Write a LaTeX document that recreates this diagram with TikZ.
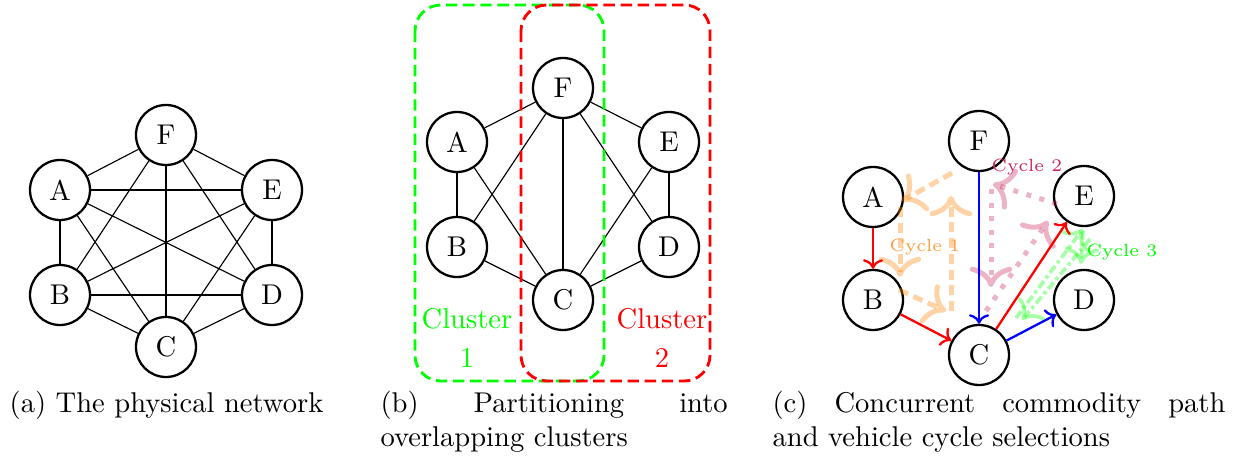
\documentclass[tikz,border=0pt]{standalone}
\usetikzlibrary{arrows.meta}
\begin{document}
\begin{tikzpicture}[x=0.35pt,y=-0.35pt,
  vtx/.style={circle,draw,thick,minimum size=21pt,inner sep=0pt,font=\normalsize},
  lnk/.style={draw,black},
  clusterbox/.style={line width=1pt,dash pattern=on 4pt off 2pt,rounded corners=9pt},
  path1/.style={thick,->},
  cyc1/.style={draw=orange,draw opacity=0.35,line width=1.75pt,dash pattern=on 3.5pt off 2pt,-{To[scale=1.3]}},
  cyc2/.style={draw=purple,draw opacity=0.3,line width=1.75pt,dash pattern=on 1.75pt off 3pt,-{To[scale=1.3]}},
  cyc3/.style={draw=green,draw opacity=0.35,line width=1.3pt,dash pattern=on 3pt off 1.2pt on 1.2pt off 1.2pt,-{To[scale=1.3]}},
  cyclabel/.style={font=\fontsize{6.2}{7}\selectfont,inner sep=1pt},
  capt/.style={inner sep=0pt,font=\normalsize}
]
\useasboundingbox (0,0) rectangle (1243,459);

% ---------------- (a) ----------------
\node[vtx] (aF) at (166,135) {F};
\node[vtx] (aA) at (60,190) {A};
\node[vtx] (aE) at (272,190) {E};
\node[vtx] (aB) at (60,295) {B};
\node[vtx] (aD) at (272,295) {D};
\node[vtx] (aC) at (166,347) {C};
\foreach \u/\v in {aA/aF,aF/aE,aA/aE,aA/aB,aA/aD,aA/aC,aF/aB,aF/aC,aF/aD,aE/aB,aE/aC,aE/aD,aB/aD,aB/aC,aC/aD}
  \draw[lnk] (\u) -- (\v);
\node[capt,anchor=base] (capa) at (166.5,413) {(a) The physical network};

% ---------------- (b) ----------------
\node[vtx] (bF) at (563,88) {F};
\node[vtx] (bA) at (457,142) {A};
\node[vtx] (bE) at (669,142) {E};
\node[vtx] (bB) at (457,247) {B};
\node[vtx] (bD) at (669,247) {D};
\node[vtx] (bC) at (563,300) {C};
\foreach \u/\v in {bA/bF,bF/bE,bA/bB,bA/bC,bF/bB,bF/bC,bF/bD,bE/bC,bE/bD,bB/bC,bD/bC}
  \draw[lnk] (\u) -- (\v);
\draw[clusterbox,green] (415,5) rectangle (604,381);
\draw[clusterbox,red] (521,5) rectangle (710,381);
\node[green,align=center,inner sep=0pt] (cl1) at (467,338) {Cluster\\[1.5pt]1};
\node[red,align=center,inner sep=0pt] (cl2) at (662,338) {Cluster\\[1.5pt]2};
\node[capt,anchor=base west,align=left] (capb) at (380,447)
  {\makebox[121.5pt][s]{(b) Partitioning into}\\overlapping clusters};

% ---------------- (c) ----------------
\node[vtx] (cF) at (979,141) {F};
\node[vtx] (cA) at (873,197) {A};
\node[vtx] (cE) at (1084,196) {E};
\node[vtx] (cB) at (873,300) {B};
\node[vtx] (cD) at (1084,300) {D};
\node[vtx] (cC) at (979,355) {C};

% cycle 1
\coordinate (o1) at (952,173);
\coordinate (o2) at (902,201);
\coordinate (o3) at (900,207);
\coordinate (o4) at (900,277);
\coordinate (o5) at (899,290);
\coordinate (o6) at (946,311);
\coordinate (o7) at (951,311);
\coordinate (o8) at (951,196);
\draw[cyc1] (o1) -- (o2);
\draw[cyc1] (o3) -- (o4);
\draw[cyc1] (o5) -- (o6);
\draw[cyc1] (o7) -- (o8);
\node[cyclabel,text=orange!75] (l1) at (925,247) {Cycle 1};

% cycle 2
\coordinate (p1) at (991,189);
\coordinate (p2) at (991,287);
\coordinate (p3) at (986,311);
\coordinate (p4) at (1048,221);
\coordinate (p5) at (1057,204);
\coordinate (p6) at (993,184);
\draw[cyc2] (p1) -- (p2);
\draw[cyc2] (p3) -- (p4);
\draw[cyc2] (p5) -- (p6);
\node[cyclabel,text=purple!85] (l2) at (1027,167) {Cycle 2};

% cycle 3
\coordinate (g1) at (1016,318);
\coordinate (g2) at (1083,229);
\coordinate (g3) at (1083,231);
\coordinate (g4) at (1081,264);
\coordinate (g5) at (1090,239);
\coordinate (g6) at (1022,320);
\draw[cyc3] (g1) -- (g2);
\draw[cyc3] (g3) -- (g4);
\draw[cyc3] (g5) -- (g6);
\node[cyclabel,text=green] (l3) at (1122,252) {Cycle 3};

% commodity paths
\draw[path1,red] (cA) -- (cB);
\draw[path1,red] (cB) -- (cC);
\draw[path1,red] (cC) -- (cE);
\draw[path1,blue] (cF) -- (cC);
\draw[path1,blue] (cC) -- (cD);

\node[capt,anchor=base west,align=left] (capc) at (772,447)
  {\makebox[158.5pt][s]{(c) Concurrent commodity path}\\and vehicle cycle selections};
\end{tikzpicture}
\end{document}
